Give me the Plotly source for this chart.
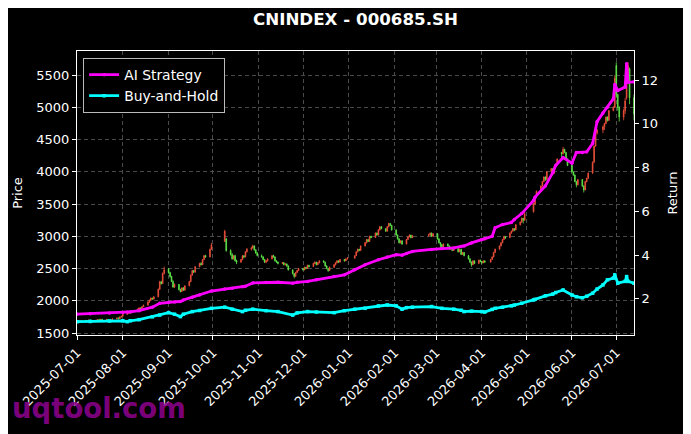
import pandas as pd
import plotly.graph_objects as go

# ---------------- DATA ----------------
title_text = "CNINDEX - 000685.SH"
start_date = "2025-07-01"
end_date = "2026-07-13"
holidays = ["2025-10-01", "2025-10-02", "2025-10-03", "2025-10-06", "2025-10-07", "2025-10-08",
            "2026-01-01", "2026-01-02",
            "2026-02-16", "2026-02-17", "2026-02-18", "2026-02-19", "2026-02-20", "2026-02-23",
            "2026-04-06", "2026-05-01", "2026-05-04", "2026-05-05", "2026-06-19"]

opens = (
    [1675,1684,1680,1690,1697,1688,1694,1702,1697,1690,1700,1708,1702,1714,1706,1713,1698,1694,1708,1720,1732,1722,1752]
    + [1762,1790,1805,1820,1812,1830,1845,1870,1890,1880,1910,1932,1980,2010,2042,2028,2062,2180,2295,2268,2425]
    + [2495,2440,2375,2300,2215,2255,2175,2145,2200,2165,2232,2300,2400,2470,2445,2530,2580,2560,2640,2700,2680,2800]
    + [2920,2960,2780,2720,2650,2700,2620,2600,2640,2700,2680,2760,2800,2820,2850,2790,2740]
    + [2700,2680,2640,2600,2620,2650,2700,2680,2620,2600,2580,2590,2560,2570,2540,2480,2420,2380,2440,2470]
    + [2500,2480,2520,2500,2550,2530,2580,2600,2560,2590,2620,2600,2540,2500,2470,2520,2560,2590,2620,2600,2640,2620,2650]
    + [2660,2700,2760,2800,2780,2850,2900,2950,2920,3000,2980,3050,3020,3100,3150,3120,3080,3150,3200,3170]
    + [3100,3020,2960,2900,2930,2880,2950,2990,3020,2980,3010,3020,3050,3000]
    + [3040,2960,2900,2870,2840,2880,2850,2800,2830,2780,2810,2760,2800,2720,2750,2700,2650,2600,2560,2620,2580,2630]
    + [2610,2590,2620,2600,2640,2680,2750,2800,2850,2900,2950,3000,2980,3050,3080,3120,3100,3180,3220,3280,3250]
    + [3380,3500,3620,3700,3780,3850,3920,3880,4000,4050,3980,4080,4120,4300,4280,4350,4300,4200]
    + [4100,4000,3950,3850,3800,3880,3780,3720,3850,3900,3980,4150,4400,4600,4650,4700,4750,4850,4800,4950,5000]
    + [5650,5200,5000,4850,4950,5150,5400,5600,5150]
)
highs = (
    [1690,1692,1695,1702,1704,1700,1708,1710,1702,1704,1712,1715,1718,1720,1718,1716,1704,1712,1725,1738,1745,1760,1770]
    + [1795,1812,1826,1828,1836,1852,1878,1898,1896,1918,1940,1990,2020,2052,2048,2072,2190,2310,2310,2440,2530]
    + [2510,2450,2390,2320,2270,2260,2190,2210,2215,2240,2310,2410,2480,2478,2540,2590,2600,2650,2710,2715,2810,2900]
    + [3100,2975,2800,2740,2710,2715,2640,2650,2710,2705,2770,2820,2840,2870,2860,2800,2755]
    + [2720,2690,2650,2630,2660,2710,2715,2690,2630,2610,2600,2600,2585,2580,2550,2490,2430,2450,2480,2510]
    + [2510,2530,2525,2560,2560,2590,2610,2605,2600,2630,2625,2605,2550,2510,2530,2570,2600,2630,2625,2650,2650,2660,2680]
    + [2710,2770,2810,2805,2860,2910,2960,2955,3010,3010,3060,3060,3110,3160,3160,3125,3160,3210,3205,3180]
    + [3110,3030,2970,2940,2940,2960,3000,3030,3025,3020,3040,3060,3060,3050]
    + [3050,2970,2910,2880,2890,2890,2860,2840,2835,2820,2815,2810,2805,2760,2755,2710,2660,2610,2630,2625,2640,2640]
    + [2615,2630,2625,2650,2690,2760,2810,2860,2910,2960,3010,3005,3060,3090,3130,3125,3190,3230,3290,3285,3410]
    + [3520,3630,3710,3790,3860,3930,3930,4010,4060,4055,4090,4130,4210,4310,4390,4360,4310,4210]
    + [4110,4010,3960,3860,3890,3890,3790,3860,3910,3990,4160,4410,4610,4670,4720,4760,4860,4860,4960,5020,5500]
    + [5700,5210,5020,4980,5150,5450,5700,5620,5200]
)
lows = (
    [1668,1676,1674,1684,1685,1682,1690,1692,1684,1686,1695,1698,1700,1702,1700,1695,1688,1690,1704,1712,1716,1718,1740]
    + [1755,1782,1798,1806,1808,1824,1840,1862,1872,1875,1902,1928,1966,2000,2018,2020,2055,2170,2250,2262,2410]
    + [2420,2360,2290,2200,2200,2160,2130,2140,2155,2160,2225,2290,2390,2430,2440,2520,2550,2555,2630,2670,2675,2790]
    + [2915,2760,2700,2640,2640,2610,2570,2590,2630,2660,2675,2750,2780,2810,2780,2730,2690]
    + [2670,2630,2590,2585,2610,2640,2670,2610,2590,2565,2570,2550,2550,2530,2470,2410,2350,2370,2430,2460]
    + [2470,2475,2490,2495,2520,2525,2570,2550,2555,2580,2590,2530,2490,2450,2465,2515,2550,2580,2590,2595,2610,2615,2640]
    + [2655,2695,2750,2770,2775,2845,2890,2910,2915,2970,2975,3010,3015,3090,3110,3070,3075,3140,3160,3090]
    + [3010,2950,2890,2890,2870,2875,2945,2985,2970,2975,3000,3010,2990,2995]
    + [2950,2890,2820,2830,2835,2840,2790,2795,2770,2775,2750,2755,2710,2715,2690,2640,2590,2530,2555,2570,2575,2600]
    + [2570,2585,2590,2595,2635,2675,2745,2795,2845,2895,2945,2960,2975,3045,3075,3080,3095,3170,3210,3200,3245]
    + [3370,3490,3600,3690,3770,3840,3860,3870,3990,3970,3975,4070,4110,4190,4270,4290,4190,4090]
    + [3990,3940,3840,3760,3790,3770,3680,3715,3840,3890,3970,4140,4390,4580,4600,4650,4740,4780,4790,4940,4990]
    + [5150,4950,4780,4800,4900,5120,5380,5050,4800]
)
closes = (
    [1682,1680,1690,1696,1688,1694,1702,1697,1690,1700,1708,1702,1714,1706,1713,1698,1694,1708,1720,1732,1722,1752,1762]
    + [1790,1805,1820,1812,1830,1845,1870,1890,1880,1910,1932,1980,2010,2042,2028,2062,2180,2295,2268,2425,2480]
    + [2440,2375,2300,2215,2255,2175,2145,2200,2165,2232,2300,2400,2470,2445,2530,2580,2560,2640,2700,2680,2800,2870]
    + [3080,2780,2720,2650,2700,2620,2600,2640,2700,2680,2760,2800,2820,2850,2790,2740,2700]
    + [2680,2640,2600,2620,2650,2700,2680,2620,2600,2580,2590,2560,2570,2540,2480,2420,2380,2440,2470,2500]
    + [2480,2520,2500,2550,2530,2580,2600,2560,2590,2620,2600,2540,2500,2470,2520,2560,2590,2620,2600,2640,2620,2650,2660]
    + [2700,2760,2800,2780,2850,2900,2950,2920,3000,2980,3050,3020,3100,3150,3120,3080,3150,3200,3170,3100]
    + [3020,2960,2900,2930,2880,2950,2990,3020,2980,3010,3020,3050,3000,3040]
    + [2960,2900,2870,2840,2880,2850,2800,2830,2780,2810,2760,2800,2720,2750,2700,2650,2600,2560,2620,2580,2630,2610]
    + [2590,2620,2600,2640,2680,2750,2800,2850,2900,2950,3000,2980,3050,3080,3120,3100,3180,3220,3280,3250,3350]
    + [3500,3620,3700,3780,3850,3920,3880,4000,4050,3980,4080,4120,4200,4280,4350,4300,4200,4100]
    + [4000,3950,3850,3800,3880,3780,3720,3850,3900,3980,4150,4400,4600,4650,4700,4750,4850,4800,4950,5000,5450]
    + [5200,5000,4850,4950,5100,5400,5650,5150,4900]
)

line_dates = ["2025-07-01","2025-07-10","2025-07-23","2025-08-01","2025-08-04","2025-08-06","2025-08-12",
              "2025-08-21","2025-08-26","2025-09-01","2025-09-05","2025-09-09","2025-09-11","2025-09-17",
              "2025-09-22","2025-09-30","2025-10-09","2025-10-14","2025-10-21","2025-10-23","2025-10-28",
              "2025-11-06","2025-11-14","2025-11-24","2025-11-27","2025-12-04","2025-12-10","2025-12-22",
              "2025-12-29","2026-01-05","2026-01-12","2026-01-21","2026-01-27","2026-02-02","2026-02-06",
              "2026-02-09","2026-02-13","2026-02-26","2026-03-05","2026-03-13","2026-03-18","2026-03-20",
              "2026-03-25","2026-04-01","2026-04-03","2026-04-08","2026-04-10","2026-04-15","2026-04-21",
              "2026-04-23","2026-04-28","2026-05-06","2026-05-07","2026-05-14","2026-05-19","2026-05-21",
              "2026-05-26","2026-06-01","2026-06-04","2026-06-08","2026-06-11","2026-06-15","2026-06-18",
              "2026-06-22","2026-06-25","2026-06-29","2026-06-30","2026-07-02","2026-07-07","2026-07-08",
              "2026-07-09","2026-07-13"]
ai_strategy = [1.30,1.32,1.35,1.38,1.40,1.41,1.46,
               1.62,1.80,1.85,1.86,1.88,1.95,2.08,
               2.18,2.36,2.45,2.49,2.56,2.58,2.73,
               2.75,2.76,2.72,2.76,2.80,2.87,3.02,
               3.10,3.33,3.56,3.79,3.92,4.02,4.00,
               4.08,4.17,4.26,4.30,4.33,4.40,4.42,
               4.56,4.71,4.75,4.86,5.25,5.40,5.49,
               5.63,5.90,6.50,6.65,7.16,7.77,8.10,
               8.46,8.20,8.69,8.69,8.72,9.10,10.10,
               10.50,10.76,11.14,11.80,11.52,11.68,12.75,
               11.90,11.92]
buy_hold = [0.96,0.97,0.99,1.00,0.96,1.00,1.05,
            1.18,1.26,1.37,1.30,1.19,1.30,1.42,
            1.47,1.57,1.62,1.53,1.42,1.48,1.53,
            1.46,1.42,1.26,1.36,1.42,1.40,1.37,
            1.46,1.53,1.57,1.68,1.72,1.68,1.53,
            1.60,1.62,1.65,1.57,1.53,1.48,1.42,
            1.44,1.42,1.40,1.52,1.57,1.62,1.68,
            1.72,1.80,1.95,1.98,2.14,2.22,2.29,
            2.41,2.18,2.10,2.05,2.12,2.26,2.45,
            2.64,2.87,2.95,3.10,2.72,2.80,3.02,
            2.80,2.72]

month_ticks = ["2025-07-01","2025-08-01","2025-09-01","2025-10-01","2025-11-01","2025-12-01",
               "2026-01-01","2026-02-01","2026-03-01","2026-04-01","2026-05-01","2026-06-01","2026-07-01"]
price_ticks = [1500, 2000, 2500, 3000, 3500, 4000, 4500, 5000, 5500]
return_ticks = [2, 4, 6, 8, 10, 12]

# ---------------- BUILD ----------------
hol = set(pd.to_datetime(holidays))
trade_days = [d for d in pd.bdate_range(start_date, end_date) if d not in hol]
assert len(trade_days) == len(opens) == len(highs) == len(lows) == len(closes), (
    len(trade_days), len(opens), len(highs), len(lows), len(closes))

UP = "#f0503c"
DOWN = "#5fe84a"
FONT = "DejaVu Sans"

fig = go.Figure()
fig.add_trace(go.Candlestick(
    x=trade_days, open=opens, high=highs, low=lows, close=closes,
    increasing=dict(line=dict(color=UP, width=0.8), fillcolor=UP),
    decreasing=dict(line=dict(color=DOWN, width=0.8), fillcolor=DOWN),
    whiskerwidth=0, showlegend=False, yaxis="y",
))
fig.add_trace(go.Scatter(
    x=line_dates, y=ai_strategy, name="AI Strategy", mode="lines+markers",
    line=dict(color="#ff00ff", width=2.8), marker=dict(symbol="circle", size=3.5, color="#ff00ff"),
    yaxis="y2",
))
fig.add_trace(go.Scatter(
    x=line_dates, y=buy_hold, name="Buy-and-Hold", mode="lines+markers",
    line=dict(color="#00ffff", width=2.8), marker=dict(symbol="square", size=3.5, color="#00ffff"),
    yaxis="y2",
))

grid = dict(gridcolor="#4a4a4a", gridwidth=0.7, griddash="4px,3px")
fig.update_layout(
    template="none",
    width=691, height=434, autosize=False,
    margin=dict(l=69, r=65, t=43, b=107, pad=0, autoexpand=False),
    paper_bgcolor="black", plot_bgcolor="black",
    font=dict(family=FONT, color="white", size=13),
    title=dict(text="<b>" + title_text + "</b>", xref="paper", x=0.5, xanchor="center",
               yref="container", y=0.975, yanchor="middle",
               font=dict(size=16.7, color="white", family=FONT)),
    xaxis=dict(type="date", range=[start_date, end_date], rangeslider=dict(visible=False),
               automargin=False,
               tickmode="array", tickvals=month_ticks, ticktext=month_ticks, tickangle=-45,
               ticks="outside", ticklen=4, tickcolor="white", showline=True, linecolor="white",
               linewidth=1, mirror=True, zeroline=False, tickfont=dict(size=13), **grid),
    yaxis=dict(range=[1470, 5875], tickvals=price_ticks, ticks="outside", ticklen=4, tickcolor="white",
               automargin=False,
               showline=True, linecolor="white", linewidth=1, mirror=True, zeroline=False,
               title=dict(text="Price", standoff=10, font=dict(size=13)), tickfont=dict(size=13), **grid),
    yaxis2=dict(range=[0.35, 13.33], tickvals=return_ticks, overlaying="y", side="right",
                automargin=False,
                ticks="outside", ticklen=4, tickcolor="white", showline=True, linecolor="white",
                linewidth=1, showgrid=False, zeroline=False,
                title=dict(text="Return", standoff=10, font=dict(size=13)), tickfont=dict(size=13)),
    legend=dict(x=0.011, y=0.975, xanchor="left", yanchor="top", bgcolor="black",
                bordercolor="#bbbbbb", borderwidth=1, font=dict(size=13.9, color="white"),
                itemwidth=30, tracegroupgap=0),
    showlegend=True,
)
fig.add_annotation(text="<b>uqtool.com</b>", xref="paper", yref="paper", x=-0.12, y=-0.257,
                   xanchor="left", yanchor="middle", showarrow=False,
                   font=dict(size=27.5, color="rgba(140,0,140,0.9)", family=FONT))

fig.write_html("out.html")
